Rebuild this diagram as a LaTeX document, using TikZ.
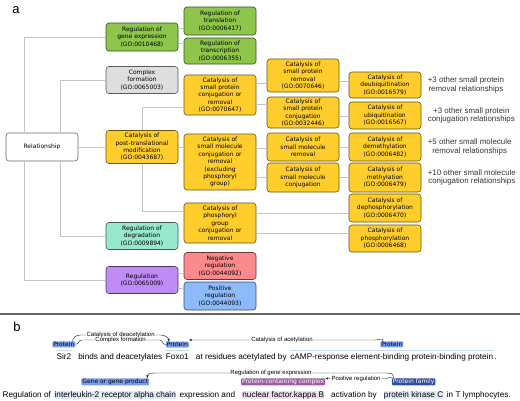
\documentclass[tikz,border=0pt]{standalone}
\usepackage{fontspec}
\setmainfont{Liberation Sans}
\newfontfamily\boxfont{DejaVu Sans}
\usetikzlibrary{positioning,arrows.meta}

\definecolor{cgreen}{RGB}{141,198,74}
\definecolor{cgray}{RGB}{222,222,222}
\definecolor{cyellow}{RGB}{255,206,44}
\definecolor{cteal}{RGB}{152,232,204}
\definecolor{cpurple}{RGB}{191,140,245}
\definecolor{cred}{RGB}{252,138,140}
\definecolor{cblue}{RGB}{140,186,250}
\definecolor{cline}{RGB}{196,196,196}
\definecolor{lprotein}{RGB}{122,158,238}
\definecolor{lcomplex}{RGB}{158,92,165}
\definecolor{lfamily}{RGB}{48,78,158}

\begin{document}
\begin{tikzpicture} [
            x=1pt, y=-1pt,
            go box/.style = {draw=#1!40!black, fill=#1, rounded corners=3pt, line width=0.6pt,
                minimum width=72pt, inner sep=1pt, align=center,
                font=\boxfont\fontsize{6}{7.4}\selectfont},
            link/.style = {draw=cline, line width=0.9pt},
            note/.style = {align=center, font=\fontsize{7.9}{8.8}\selectfont, text=black!80},
            word/.style = {inner sep=0.4pt, font=\fontsize{8.2}{9}\selectfont},
            entity/.style = {fill=#1, inner xsep=1pt, inner ysep=0.6pt, rounded corners=1pt,
                font=\boxfont\fontsize{6}{6.5}\selectfont},
            span mark/.style = {draw=#1!40, line width=1pt},
            arc/.style = {draw=black!85, line width=0.45pt},
            arc label/.style = {fill=white, inner sep=0.5pt, font=\fontsize{6}{6.5}\selectfont},
            tip/.style = {-{Stealth[length=3pt,width=2.6pt]}}
        ]
        \useasboundingbox (0,0) rectangle (520,400);
        % Panel labels
        \node[font=\fontsize{13}{14}\selectfont] (lbla) at (16,10) {a};
        \node[font=\fontsize{13}{14}\selectfont] (lblb) at (17,327) {b};
        % First we draw the GO term boxes
        \foreach \pos/\name/\col/\h/\txt in {
                {(42,147)/relship/white/28/{Relationship}},
                {(142,37)/gex/cgreen/28/{Regulation of\\gene expression\\(GO:0010468)}},
                {(142,80)/cpx/cgray/27/{Complex\\formation\\(GO:0065003)}},
                {(142,147)/ptm/cyellow/33/{Catalysis of\\post-translational\\modification\\(GO:0043687)}},
                {(142,236)/deg/cteal/27/{Regulation of\\degradation\\(GO:0009894)}},
                {(142,280)/reg/cpurple/27/{Regulation\\(GO:0065009)}},
                {(220,21)/trl/cgreen/28/{Regulation of\\translation\\(GO:0006417)}},
                {(220,51)/trc/cgreen/26/{Regulation of\\transcription\\(GO:0006355)}},
                {(220,95)/spc/cyellow/40/{Catalysis of\\small protein\\conjugation or\\removal\\(GO:0070647)}},
                {(220,162)/smc/cyellow/56/{Catalysis of\\small molecule\\conjugation or\\removal\\(excluding\\phosphoryl\\group)}},
                {(220,223)/phg/cyellow/40/{Catalysis of\\phosphoryl\\group\\conjugation or\\removal}},
                {(220,266)/neg/cred/27/{Negative\\regulation\\(GO:0044092)}},
                {(220,296)/pos/cblue/28/{Positive\\regulation\\(GO:0044093)}},
                {(303,75.5)/spr/cyellow/33/{Catalysis of\\small protein\\removal\\(GO:0070646)}},
                {(303,112.5)/spj/cyellow/31/{Catalysis of\\small protein\\conjugation\\(GO:0032446)}},
                {(303,147)/smr/cyellow/28/{Catalysis of\\small molecule\\removal}},
                {(303,177.5)/smj/cyellow/29/{Catalysis of\\small molecule\\conjugation}},
                {(385,85)/deu/cyellow/26/{Catalysis of\\deubiquitination\\(GO:0016579)}},
                {(385,115.5)/ubi/cyellow/27/{Catalysis of\\ubiquitination\\(GO:0016567)}},
                {(385,147)/dem/cyellow/28/{Catalysis of\\demethylation\\(GO:0006482)}},
                {(385,177.5)/met/cyellow/29/{Catalysis of\\methylation\\(GO:0006479)}},
                {(385,208)/dph/cyellow/28/{Catalysis of\\dephosphorylation\\(GO:0006470)}},
                {(385,238.5)/pho/cyellow/27/{Catalysis of\\phosphorylation\\(GO:0006468)}}}
            \node[go box=\col, minimum height=\h] (\name) at \pos {\txt};
        % Relationship to the first column
        \draw[link] ([xshift=-18pt]relship.north) |- (gex.west);
        \draw[link] ([xshift=-18pt]relship.south) |- (reg.west);
        \draw[link] ([xshift=18pt]relship.north) |- (cpx.west);
        \draw[link] ([xshift=18pt]relship.south) |- (deg.west);
        \draw[link] (relship.east) -- (ptm.west);
        % post-translational modification branches
        \draw[link] (ptm.north) |- ([yshift=-12pt]spc.west);
        \draw[link] (ptm.east) -- (ptm.east -| smc.west);
        \draw[link] (ptm.south) |- ([yshift=12pt]phg.west);
        % short links between neighbouring columns
        \foreach \source/\dest/\dy in {
                gex/trl/9, gex/trc/-6, spc/spr/12, spc/spj/-9,
                spr/deu/-6, spj/ubi/-4, smr/dem/0, smj/met/0,
                smc/smr/14, smc/smj/-15, phg/dph/10, phg/pho/-10,
                reg/neg/7, reg/pos/-8}
            \draw[link] ([yshift=\dy pt]\source.east) -- ([yshift=\dy pt]\source.east -| \dest.west);
        % other relationships
        \node[note, right=3pt of deu] (nsprem) {+3 other small protein\\removal relationships};
        \node[note, right=3pt of ubi] (nspcon) {+3 other small protein\\conjugation relationships};
        \node[note, right=3pt of dem] (nsmrem) {+5 other small molecule\\removal relationships};
        \node[note, right=3pt of met] (nsmcon) {+10 other small molecule\\conjugation relationships};
        % separator
        \draw[line width=1.3pt, black!60] (0,314) -- (520,314);
        % First sentence
        \node[word, anchor=base west] (sir) at (56,359) {Sir2};
        \node[word, base right=6pt of sir] (w1) {binds and deacetylates};
        \node[word, base right=2.5pt of w1] (foxo) {Foxo1};
        \node[word, base right=6pt of foxo] (w2) {at residues acetylated by};
        \node[word, base right=2.5pt of w2] (camp) {cAMP-response element-binding protein-binding protein};
        \node[word, base right=0pt of camp] (w3) {.};
        \foreach \span in {sir, foxo, camp}
            \draw[span mark=lprotein] ([yshift=2pt]\span.north west) -- ([yshift=2pt]\span.north east);
        \node[entity=lprotein, above=5pt of sir] (psir) {Protein};
        \node[entity=lprotein, above=5pt of foxo] (pfox) {Protein};
        \node[entity=lprotein, above=5pt of camp] (pcamp) {Protein};
        % Second sentence
        \node[word, anchor=base west] (w4) at (2,397) {Regulation of};
        \node[word, base right=2.5pt of w4, fill=lprotein!22] (il2) {interleukin-2 receptor alpha chain};
        \node[word, base right=2.5pt of il2] (w5) {expression and};
        \node[word, base right=6pt of w5, fill=lcomplex!18] (nfkb) {nuclear factor.kappa B};
        \node[word, base right=6pt of nfkb] (w6) {activation by};
        \node[word, base right=6pt of w6, fill=lprotein!22] (pkc) {protein kinase C};
        \node[word, base right=2.5pt of pkc] (w7) {in T lymphocytes.};
        \node[entity=lprotein, above=5pt of il2] (pgene) {Gene or gene product};
        \node[entity=lcomplex, text=white, above=5pt of nfkb] (pcplx) {Protein-containing complex};
        \node[entity=lfamily, text=white, above=5pt of pkc] (pfam) {Protein family};
        % Relation arcs
        \coordinate (lv1) at (0,335);
        \coordinate (lv2) at (0,340);
        \coordinate (lv3) at (0,373);
        \coordinate (lv4) at (0,378.5);
        \draw[arc, tip] ([xshift=-3pt]psir.north east) .. controls +(0,4pt) and +(-4pt,0) .. ([xshift=5pt]psir.north east |- lv1)
            -- node[arc label] {Catalysis of deacetylation} ([xshift=-5pt]pfox.north west |- lv1)
            .. controls +(4pt,0) and +(0,4pt) .. ([xshift=3pt]pfox.north west);
        \draw[arc] (psir.east) .. controls +(3pt,0) and +(-3pt,0) .. ([xshift=6pt]psir.east |- lv2)
            -- node[arc label] {Complex formation} ([xshift=-6pt]pfox.west |- lv2)
            .. controls +(3pt,0) and +(-3pt,0) .. (pfox.west);
        \draw[arc, tip] ([xshift=3pt]pcamp.north west) .. controls +(0,4pt) and +(4pt,0) .. ([xshift=-5pt]pcamp.north west |- lv2)
            -- node[arc label] {Catalysis of acetylation} (pfox.east |- lv2);
        \draw[arc, tip] ([xshift=2pt]pfam.north west) .. controls +(0,5pt) and +(4pt,0) .. ([xshift=-6pt]pfam.north west |- lv3)
            -- node[arc label] {Regulation of gene expression} ([xshift=7pt]pgene.north east |- lv3)
            .. controls +(-5pt,0) and +(0,5pt) .. ([xshift=-2pt]pgene.north east);
        \draw[arc, tip] ([xshift=1pt]pfam.north west) .. controls +(-2pt,2pt) and +(3pt,0) .. ([xshift=-5pt]pfam.north west |- lv4)
            -- node[arc label] {Positive regulation} (pcplx.east |- lv4);
    \end{tikzpicture}
\end{document}
